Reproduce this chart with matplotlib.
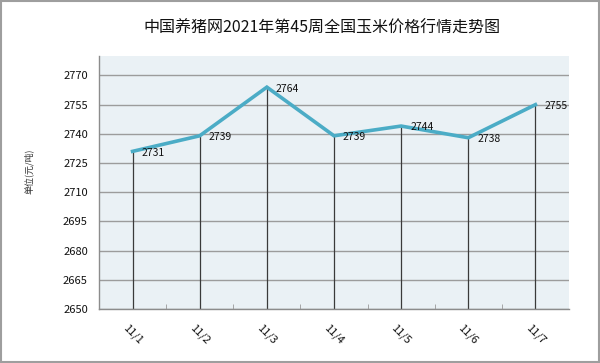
import matplotlib
matplotlib.use("Agg")
import matplotlib.pyplot as plt
from matplotlib.patches import Rectangle

plt.rcParams['font.family'] = ['Noto Sans CJK SC', 'DejaVu Sans']

dates = ["11/1", "11/2", "11/3", "11/4", "11/5", "11/6", "11/7"]
prices = [2731, 2739, 2764, 2739, 2744, 2738, 2755]
yticks = [2650, 2665, 2680, 2695, 2710, 2725, 2740, 2755, 2770]
title = "中国养猪网2021年第45周全国玉米价格行情走势图"
ylabel = "单位(元/吨)"

fig = plt.figure(figsize=(6.0, 3.63), dpi=100)
ax = fig.add_axes([99/600, 1-309/363, 470/600, 253/363])
ax.set_facecolor("#eaf1f5")

x = list(range(len(dates)))
ax.set_xlim(-0.5, len(dates) - 0.5)
ax.set_ylim(2650, 2780)
ax.set_yticks(yticks)
ax.yaxis.grid(True, color="#9c9c9c", lw=1.0)
ax.set_axisbelow(True)

ax.vlines(x, 2650, prices, color="#3a3a3a", lw=0.9, zorder=2)
ax.plot(x, prices, color="#4bacc6", lw=2.6, zorder=3, solid_joinstyle="miter")
for xi, p in zip(x, prices):
    ax.annotate(str(p), (xi, p), xytext=(6.5, -1), textcoords="offset points",
                ha="left", va="center", fontsize=7.5, color="#111111", zorder=4)

ax.set_xticks(x)
ax.set_xticklabels(dates)
ax.set_xticks([i + 0.5 for i in range(len(dates) - 1)], minor=True)
ax.tick_params(axis="x", which="major", length=0, pad=18, labelsize=8, colors="#111111")
ax.tick_params(axis="x", which="minor", length=3.5, direction="in", color="#999999")
plt.setp(ax.get_xticklabels(), rotation=-45, ha="center", va="center", rotation_mode="anchor")
ax.tick_params(axis="y", length=0, pad=8, labelsize=8, colors="#111111")

for s in ["top", "right"]:
    ax.spines[s].set_visible(False)
for s in ["left", "bottom"]:
    ax.spines[s].set_color("#8c8c8c")
    ax.spines[s].set_linewidth(1.0)

fig.text(322/600, 1-28/363, title, ha="center", va="center", fontsize=11.5, fontweight="medium", color="#111111")
fig.text(29/600, 1-171/363, ylabel, ha="center", va="center", rotation=90, fontsize=6.5, color="#333333")

fig.patches.append(Rectangle((0.001, 0.002), 0.997, 0.995, transform=fig.transFigure,
                             fill=False, edgecolor="#9e9e9e", lw=1.5))

fig.savefig("out.png", dpi=100)
